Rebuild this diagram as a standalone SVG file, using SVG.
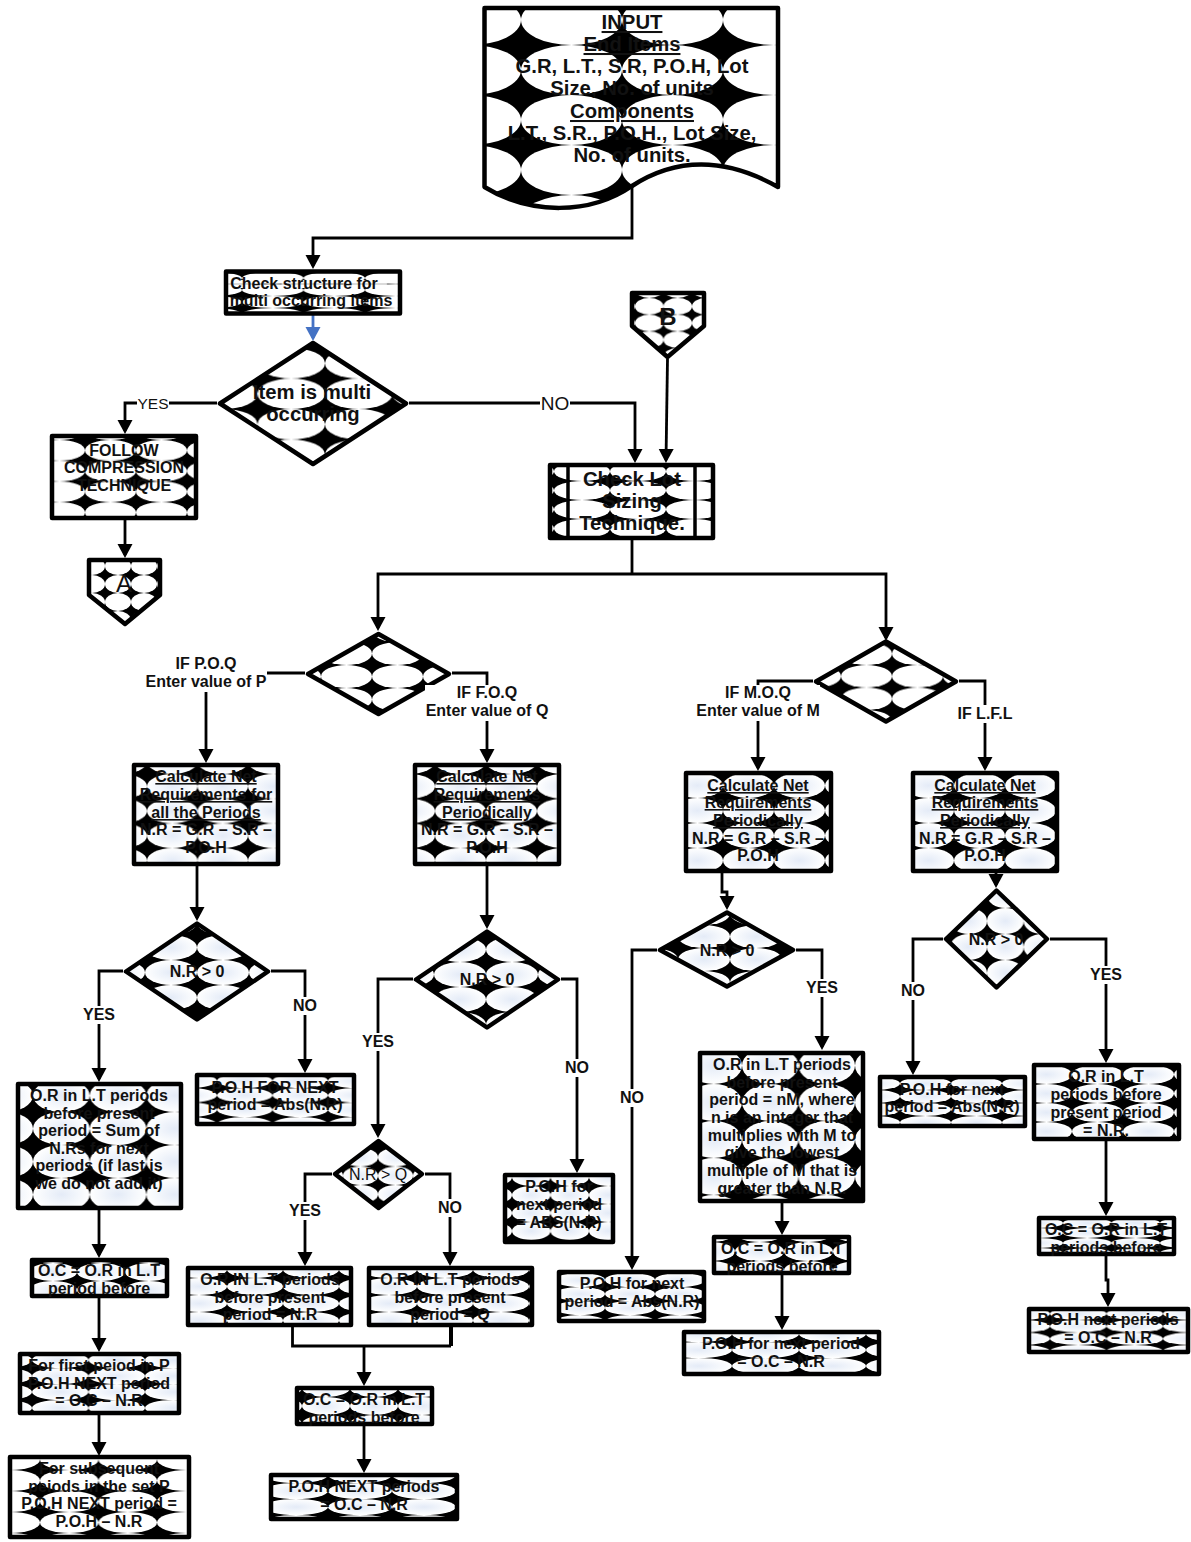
<svg xmlns="http://www.w3.org/2000/svg" width="1191" height="1542" viewBox="0 0 1191 1542">
<style>
text{font-family:"Liberation Sans",Arial,sans-serif;font-weight:bold;font-size:16px;text-anchor:middle;fill:#111}
.u{text-decoration:underline}
.r{font-weight:normal}
.h{font-size:20.300px}
.s{stroke:#000;stroke-width:4.500;stroke-linejoin:round}
.c{fill:none;stroke:#000;stroke-width:2.800;marker-end:url(#a)}
.n{fill:none;stroke:#000;stroke-width:2.800}
.w{fill:#fff}
.l{fill:url(#g)}
.b{fill:#fff}
</style>
<defs>
<radialGradient id="g"><stop offset="0" stop-color="#e4ebf7"/><stop offset="0.75" stop-color="#f8fafd"/><stop offset="1" stop-color="#fff"/></radialGradient>
<marker id="a" markerUnits="userSpaceOnUse" markerWidth="16" markerHeight="16" viewBox="0 0 16 16" refX="11" refY="8" orient="auto"><path d="M0 0.500L14 8L0 15.500Z"/></marker>
<marker id="ab" markerUnits="userSpaceOnUse" markerWidth="16" markerHeight="16" viewBox="0 0 16 16" refX="11" refY="8" orient="auto"><path d="M0 0.500L14 8L0 15.500Z" fill="#4472c4"/></marker>
<pattern id="pinput" patternUnits="userSpaceOnUse" x="521" y="45" width="101" height="50"><rect width="101" height="50"/><ellipse class="w" cx="50.5" cy="25" rx="50.5" ry="25"/></pattern>
<pattern id="pchk" patternUnits="userSpaceOnUse" x="242" y="272" width="61.5" height="36"><rect width="61.5" height="36"/><ellipse class="w" cx="30.75" cy="6" rx="30.75" ry="6"/><ellipse class="w" cx="30.75" cy="18" rx="30.75" ry="6"/><ellipse class="w" cx="30.75" cy="30" rx="30.75" ry="6"/><rect class="w" x="0" y="8" width="22" height="8"/><rect class="w" x="39.500" y="8" width="22" height="8"/><rect y="11.700" width="61.5" height="0.600" fill="#888"/></pattern>
<pattern id="pitem" patternUnits="userSpaceOnUse" x="325" y="348" width="67.5" height="30.5"><rect width="67.5" height="30.5"/><ellipse class="w" cx="33.75" cy="15.25" rx="33.75" ry="15.25"/></pattern>
<pattern id="pfol" patternUnits="userSpaceOnUse" x="85" y="440" width="51" height="20.7"><rect width="51" height="20.7"/><ellipse class="w" cx="25.5" cy="10.35" rx="25.5" ry="10.35"/></pattern>
<pattern id="pa" patternUnits="userSpaceOnUse" x="105" y="575" width="26" height="18"><rect width="26" height="18"/><ellipse class="w" cx="13" cy="9" rx="13" ry="9"/></pattern>
<pattern id="pb" patternUnits="userSpaceOnUse" x="635" y="298" width="28.5" height="16.7"><rect width="28.5" height="16.7"/><ellipse class="w" cx="14.25" cy="8.35" rx="14.25" ry="8.35"/></pattern>
<pattern id="plot" patternUnits="userSpaceOnUse" x="610" y="481" width="56" height="19"><rect width="56" height="19"/><ellipse class="w" cx="28" cy="9.5" rx="28" ry="9.5"/></pattern>
<pattern id="ppoq" patternUnits="userSpaceOnUse" x="372" y="642" width="51" height="23"><rect width="51" height="23"/><ellipse class="w" cx="25.5" cy="11.5" rx="25.5" ry="11.5"/></pattern>
<pattern id="plfl" patternUnits="userSpaceOnUse" x="892" y="665" width="51" height="22.5"><rect width="51" height="22.5"/><ellipse class="w" cx="25.5" cy="11.25" rx="25.5" ry="11.25"/></pattern>
<pattern id="pcp" patternUnits="userSpaceOnUse" x="147" y="774" width="50.5" height="24.7"><rect width="50.5" height="24.7"/><ellipse class="l" cx="25.25" cy="12.35" rx="25.25" ry="12.35"/></pattern>
<pattern id="pcf" patternUnits="userSpaceOnUse" x="435" y="774" width="51" height="24.7"><rect width="51" height="24.7"/><ellipse class="l" cx="25.5" cy="12.35" rx="25.5" ry="12.35"/></pattern>
<pattern id="pcm" patternUnits="userSpaceOnUse" x="723" y="798" width="51" height="25"><rect width="51" height="25"/><ellipse class="l" cx="25.5" cy="12.5" rx="25.5" ry="12.5"/></pattern>
<pattern id="pcl" patternUnits="userSpaceOnUse" x="954" y="798" width="51" height="25"><rect width="51" height="25"/><ellipse class="l" cx="25.5" cy="12.5" rx="25.5" ry="12.5"/></pattern>
<pattern id="pd1" patternUnits="userSpaceOnUse" x="197" y="935" width="52" height="25"><rect width="52" height="25"/><ellipse class="l" cx="26" cy="12.5" rx="26" ry="12.5"/></pattern>
<pattern id="pd2" patternUnits="userSpaceOnUse" x="486" y="937" width="52" height="25"><rect width="52" height="25"/><ellipse class="l" cx="26" cy="12.5" rx="26" ry="12.5"/></pattern>
<pattern id="pd3" patternUnits="userSpaceOnUse" x="730" y="925" width="52" height="23"><rect width="52" height="23"/><ellipse class="l" cx="26" cy="11.5" rx="26" ry="11.5"/></pattern>
<pattern id="pd4" patternUnits="userSpaceOnUse" x="987" y="908" width="36.7" height="26"><rect width="36.7" height="26"/><ellipse class="l" cx="18.35" cy="13" rx="18.35" ry="13"/></pattern>
<pattern id="pdq" patternUnits="userSpaceOnUse" x="378" y="1148" width="35" height="18.5"><rect width="35" height="18.5"/><ellipse class="l" cx="17.5" cy="9.25" rx="17.5" ry="9.25"/></pattern>
<pattern id="porl" patternUnits="userSpaceOnUse" x="33" y="1112" width="56.7" height="33"><rect width="56.7" height="33"/><ellipse class="l" cx="28.35" cy="16.5" rx="28.35" ry="16.5"/></pattern>
<pattern id="ppoh1" patternUnits="userSpaceOnUse" x="217" y="1088" width="55.5" height="14.5"><rect width="55.5" height="14.5"/><ellipse class="l" cx="27.75" cy="7.25" rx="27.75" ry="7.25"/></pattern>
<pattern id="poc1" patternUnits="userSpaceOnUse" x="77" y="1263" width="48" height="18"><rect width="48" height="18"/><ellipse class="l" cx="24" cy="9" rx="24" ry="9"/></pattern>
<pattern id="pfirst" patternUnits="userSpaceOnUse" x="32" y="1368" width="56.5" height="16"><rect width="56.5" height="16"/><ellipse class="l" cx="28.25" cy="8" rx="28.25" ry="8"/></pattern>
<pattern id="psub" patternUnits="userSpaceOnUse" x="40" y="1470" width="58.5" height="21"><rect width="58.5" height="21"/><ellipse class="w" cx="29.25" cy="10.5" rx="29.25" ry="10.5"/></pattern>
<pattern id="porin" patternUnits="userSpaceOnUse" x="227" y="1278" width="56" height="17"><rect width="56" height="17"/><ellipse class="l" cx="28" cy="8.5" rx="28" ry="8.5"/></pattern>
<pattern id="porq" patternUnits="userSpaceOnUse" x="417" y="1278" width="56" height="17"><rect width="56" height="17"/><ellipse class="l" cx="28" cy="8.5" rx="28" ry="8.5"/></pattern>
<pattern id="poc2" patternUnits="userSpaceOnUse" x="350" y="1397" width="48" height="18"><rect width="48" height="18"/><ellipse class="l" cx="24" cy="9" rx="24" ry="9"/></pattern>
<pattern id="ppn" patternUnits="userSpaceOnUse" x="328" y="1483" width="64" height="16"><rect width="64" height="16"/><ellipse class="l" cx="32" cy="8" rx="32" ry="8"/></pattern>
<pattern id="ppa" patternUnits="userSpaceOnUse" x="512" y="1186" width="38.5" height="18"><rect width="38.5" height="18"/><ellipse class="l" cx="19.25" cy="9" rx="19.25" ry="9"/></pattern>
<pattern id="porm" patternUnits="userSpaceOnUse" x="742" y="1084" width="56.5" height="37"><rect width="56.5" height="37"/><ellipse class="l" cx="28.25" cy="18.5" rx="28.25" ry="18.5"/></pattern>
<pattern id="poc3" patternUnits="userSpaceOnUse" x="735" y="1242" width="49" height="19"><rect width="49" height="19"/><ellipse class="l" cx="24.5" cy="9.5" rx="24.5" ry="9.5"/></pattern>
<pattern id="ppnp" patternUnits="userSpaceOnUse" x="732" y="1342" width="67" height="16"><rect width="67" height="16"/><ellipse class="l" cx="33.5" cy="8" rx="33.5" ry="8"/></pattern>
<pattern id="ppab" patternUnits="userSpaceOnUse" x="605" y="1287" width="50" height="14"><rect width="50" height="14"/><ellipse class="l" cx="25" cy="7" rx="25" ry="7"/></pattern>
<pattern id="ppr" patternUnits="userSpaceOnUse" x="900" y="1090" width="51" height="13"><rect width="51" height="13"/><ellipse class="l" cx="25.5" cy="6.5" rx="25.5" ry="6.5"/></pattern>
<pattern id="port" patternUnits="userSpaceOnUse" x="1072" y="1084" width="51" height="19"><rect width="51" height="19"/><ellipse class="l" cx="25.5" cy="9.5" rx="25.5" ry="9.5"/></pattern>
<pattern id="poc4" patternUnits="userSpaceOnUse" x="1063" y="1228" width="48.5" height="10"><rect width="48.5" height="10"/><ellipse class="l" cx="24.25" cy="5" rx="24.25" ry="5"/></pattern>
<pattern id="ppnr" patternUnits="userSpaceOnUse" x="1050" y="1320" width="56.5" height="12.5"><rect width="56.5" height="12.5"/><ellipse class="l" cx="28.25" cy="6.25" rx="28.25" ry="6.25"/></pattern>
</defs>

<g id="connectors">
<path class="c" d="M632 186V238H313V266"/>
<path d="M313 315V338" fill="none" stroke="#4472c4" stroke-width="2.800" marker-end="url(#ab)"/>
<path class="c" d="M217 403H125V431"/>
<path class="c" d="M409 403H635V460"/>
<path class="c" d="M667.5 359L666 460"/>
<path class="c" d="M125 520V555"/>
<path class="n" d="M632 540V574"/>
<path class="c" d="M632 574H378V628"/>
<path class="c" d="M632 574H886V638"/>
<path class="c" d="M305 673H206V760"/>
<path class="c" d="M452 673H487V760"/>
<path class="c" d="M813 681H758V768"/>
<path class="c" d="M959 681H985V768"/>
<path class="c" d="M197 866V918"/>
<path class="c" d="M487 866V926"/>
<path class="c" d="M722 873V892H727V907"/>
<path class="c" d="M996 873V885"/>
<path class="c" d="M123 971H99V1079"/>
<path class="c" d="M271 971H305V1070"/>
<path class="c" d="M413 979H378V1135"/>
<path class="c" d="M561 979H577V1170"/>
<path class="c" d="M657 950H632V1267"/>
<path class="c" d="M796 950H822V1047"/>
<path class="c" d="M943 939H913V1072"/>
<path class="c" d="M1050 939H1106V1060"/>
<path class="c" d="M332 1174H305V1263"/>
<path class="c" d="M425 1174H450V1263"/>
<path class="c" d="M99 1210V1255"/>
<path class="c" d="M99 1298V1349"/>
<path class="c" d="M99 1413V1453"/>
<path class="n" d="M292.500 1327V1346H451"/>
<path class="n" style="stroke-width:4" d="M451 1327V1346"/>
<path class="c" d="M364 1346V1383"/>
<path class="c" d="M364 1426V1470"/>
<path class="c" d="M782 1203V1232"/>
<path class="c" d="M782 1275V1327"/>
<path class="c" d="M1106 1141V1213"/>
<path class="c" d="M1106 1256V1280H1108V1304"/>
</g>

<g id="n-input"><path class="s" fill="url(#pinput)" d="M484.500 8H778V187C730 160 680 155 632 186C590 215 530 215 484.500 187Z"/>
<text class="h u" x="632" y="29">INPUT</text><text class="h u" x="632" y="51">End Items</text><text class="h" x="632" y="73">G.R, L.T., S.R, P.O.H, Lot</text><text class="h" x="632" y="95">Size, No. of units</text><text class="h u" x="632" y="118">Components</text><text class="h" x="632" y="140">L.T., S.R., P.O.H., Lot Size,</text><text class="h" x="632" y="162">No. of units.</text></g>
<g id="n-check"><rect class="s" fill="url(#pchk)" x="226" y="271.500" width="174" height="42"/>
<text x="304" y="289">Check structure for</text><text x="311" y="306">multi occurring items</text></g>
<g id="n-item"><polygon class="s" fill="url(#pitem)" points="313,343 406,403.500 313,464 220,403.500"/>
<text class="h" x="312" y="399">Item is multi</text><text class="h" x="313" y="421">occurring</text></g>
<g id="n-follow"><rect class="s" fill="url(#pfol)" x="52" y="436" width="144" height="82"/>
<text x="124" y="456">FOLLOW</text><text x="124" y="473">COMPRESSION</text><text x="124" y="491">TECHNIQUE</text></g>
<g id="n-a"><polygon class="s" fill="url(#pa)" points="89,560 160,560 160,595 125,624 89,595"/><text class="r" style="font-size:24px" x="124" y="592">A</text></g>
<g id="n-b"><polygon class="s" fill="url(#pb)" points="632,293 704,293 704,326 667.500,357 632,326"/><text style="font-size:24px" x="668" y="325">B</text></g>
<g id="n-lot"><rect class="s" fill="url(#plot)" x="550" y="465" width="163" height="73"/><path class="n" style="stroke-width:3.500" d="M568 465V538M695 465V538"/>
<text class="h" x="632" y="486">Check Lot</text><text class="h" x="632" y="508">Sizing</text><text class="h" x="632" y="530">Technique.</text></g>
<g id="n-poq"><polygon class="s" fill="url(#ppoq)" points="378.500,634 449,674 378.500,714 308,674"/></g>
<g id="n-lfl"><polygon class="s" fill="url(#plfl)" points="886,641.500 956,681.500 886,721.500 816,681.500"/></g>
<g id="n-calc-p"><rect class="s" fill="url(#pcp)" x="134" y="765" width="144" height="99"/>
<text class="u" x="206" y="782">Calculate Net</text><text class="u" x="206" y="800">Requirements for</text><text class="u" x="206" y="818">all the Periods</text><text x="206" y="835">N.R = G.R – S.R –</text><text x="206" y="853">P.O.H</text></g>
<g id="n-calc-q"><rect class="s" fill="url(#pcf)" x="415" y="765" width="144" height="99"/>
<text class="u" x="487" y="782">Calculate Net</text><text class="u" x="487" y="800">Requirements</text><text class="u" x="487" y="818">Periodically</text><text x="487" y="835">N.R = G.R – S.R –</text><text x="487" y="853">P.O.H</text></g>
<g id="n-calc-m"><rect class="s" fill="url(#pcm)" x="686" y="773" width="145" height="98"/>
<text class="u" x="758" y="791">Calculate Net</text><text class="u" x="758" y="808">Requirements</text><text class="u" x="758" y="826">Periodically</text><text x="758" y="844">N.R = G.R – S.R –</text><text x="758" y="861">P.O.H</text></g>
<g id="n-calc-l"><rect class="s" fill="url(#pcl)" x="913" y="773" width="144" height="98"/>
<text class="u" x="985" y="791">Calculate Net</text><text class="u" x="985" y="808">Requirements</text><text class="u" x="985" y="826">Periodically</text><text x="985" y="844">N.R = G.R – S.R –</text><text x="985" y="861">P.O.H</text></g>
<g id="n-d1"><polygon class="s" fill="url(#pd1)" points="197,923.500 268,971.500 197,1019.500 126,971.500"/><text x="197" y="977">N.R &gt; 0</text></g>
<g id="n-d2"><polygon class="s" fill="url(#pd2)" points="487,931.500 558,979.500 487,1027.500 416,979.500"/><text x="487" y="985">N.R &gt; 0</text></g>
<g id="n-d3"><polygon class="s" fill="url(#pd3)" points="727,912.500 793,950 727,986.500 660,950"/><text x="727" y="956">N.R &gt; 0</text></g>
<g id="n-d4"><polygon class="s" fill="url(#pd4)" points="996.500,890.500 1047,939 996.500,987.500 946,939"/><text x="996" y="945">N.R &gt; 0</text></g>
<g id="n-dq"><polygon class="s" fill="url(#pdq)" points="378.500,1141 422,1174 378.500,1208 335,1174"/><text class="r" x="378" y="1180">N.R &gt; Q</text></g>
<g id="n-or-p"><rect class="s" fill="url(#porl)" x="18" y="1084" width="163" height="124"/>
<text x="99" y="1101">O.R in L.T periods</text><text x="99" y="1119">before present</text><text x="99" y="1136">period = Sum of</text><text x="99" y="1154">N.Rs for next</text><text x="99" y="1171">periods (if last is</text><text x="99" y="1189">we do not add it)</text></g>
<g id="n-poh-p"><rect class="s" fill="url(#ppoh1)" x="197" y="1075" width="157" height="49"/>
<text x="275" y="1093">P.O.H FOR NEXT</text><text x="275" y="1110">period = Abs(N.R)</text></g>
<g id="n-oc-p"><rect class="s" fill="url(#poc1)" x="32" y="1260" width="135" height="36"/>
<text x="99" y="1276">O.C = O.R in L.T</text><text x="99" y="1294">period before</text></g>
<g id="n-first"><rect class="s" fill="url(#pfirst)" x="20" y="1354" width="159" height="59"/>
<text x="99" y="1371">For first peiod in P</text><text x="99" y="1389">P.O.H NEXT period</text><text x="99" y="1406">= O.C – N.R</text></g>
<g id="n-sub"><rect class="s" fill="url(#psub)" x="10" y="1457" width="179" height="80"/>
<text x="99" y="1474">For subsequent</text><text x="99" y="1492">peiods in the set P</text><text x="99" y="1509">P.O.H NEXT period =</text><text x="99" y="1527">P.O.H – N.R</text></g>
<g id="n-or-n"><rect class="s" fill="url(#porin)" x="188" y="1268" width="163" height="57"/>
<text x="270" y="1285">O.R IN L.T periods</text><text x="270" y="1303">before present</text><text x="270" y="1320">period = N.R</text></g>
<g id="n-or-q"><rect class="s" fill="url(#porq)" x="369" y="1268" width="163" height="57"/>
<text x="450" y="1285">O.R IN L.T periods</text><text x="450" y="1303">before present</text><text x="450" y="1320">period = Q</text></g>
<g id="n-oc-q"><rect class="s" fill="url(#poc2)" x="297" y="1388" width="135" height="36"/>
<text x="364" y="1405">O.C = O.R in L.T</text><text x="364" y="1423">periods before</text></g>
<g id="n-poh-q"><rect class="s" fill="url(#ppn)" x="271" y="1475" width="186" height="44"/>
<text x="364" y="1492">P.O.H NEXT periods</text><text x="364" y="1510">= O.C – N.R</text></g>
<g id="n-poh-a"><rect class="s" fill="url(#ppa)" x="505" y="1175" width="108" height="67"/>
<text x="559" y="1192">P.O.H for</text><text x="559" y="1210">next period</text><text x="559" y="1228">= ABS(N.R)</text></g>
<g id="n-or-m"><rect class="s" fill="url(#porm)" x="700" y="1053" width="163" height="148"/>
<text x="782" y="1070">O.R in L.T periods</text><text x="782" y="1088">before present</text><text x="782" y="1105">period = nM, where</text><text x="782" y="1123">n is an integer that</text><text x="782" y="1141">multiplies with M to</text><text x="782" y="1158">give the lowest</text><text x="782" y="1176">multiple of M that is</text><text x="782" y="1194">greater than N.R.</text></g>
<g id="n-oc-m"><rect class="s" fill="url(#poc3)" x="714" y="1237" width="135" height="36"/>
<text x="782" y="1254">O.C = O.R in L.T</text><text x="782" y="1272">periods before</text></g>
<g id="n-poh-m"><rect class="s" fill="url(#ppnp)" x="684" y="1332" width="195" height="42"/>
<text x="781" y="1349">P.O.H for next period</text><text x="781" y="1367">= O.C – N.R</text></g>
<g id="n-poh-abs"><rect class="s" fill="url(#ppab)" x="559" y="1272" width="145" height="49"/>
<text x="632" y="1289">P.O.H for next</text><text x="632" y="1307">period = Abs(N.R)</text></g>
<g id="n-poh-r"><rect class="s" fill="url(#ppr)" x="880" y="1077" width="145" height="49"/>
<text x="952" y="1095">P.O.H for next</text><text x="952" y="1112">period = Abs(N.R)</text></g>
<g id="n-or-l"><rect class="s" fill="url(#port)" x="1034" y="1065" width="145" height="74"/>
<text x="1106" y="1082">O.R in L.T</text><text x="1106" y="1100">periods before</text><text x="1106" y="1118">present period</text><text x="1106" y="1136">= N.R.</text></g>
<g id="n-oc-l"><rect class="s" fill="url(#poc4)" x="1039" y="1218" width="135" height="36"/>
<text x="1106" y="1235">O.C = O.R in L.T</text><text x="1106" y="1253">periods before</text></g>
<g id="n-poh-l"><rect class="s" fill="url(#ppnr)" x="1029" y="1309" width="159" height="43"/>
<text x="1108" y="1325">P.O.H next periods</text><text x="1108" y="1343">= O.C – N.R</text></g>

<g id="labels">
<rect class="b" x="137" y="395" width="32" height="16"/><text class="r" style="font-size:15.500px" x="153" y="408.500">YES</text>
<rect class="b" x="540" y="394" width="30" height="18"/><text class="r" style="font-size:19px" x="555" y="409.500">NO</text>
<rect class="b" x="145" y="655" width="122" height="37"/><text x="206" y="669">IF P.O.Q</text><text x="206" y="687">Enter value of P</text>
<rect class="b" x="425" y="685" width="124" height="36"/><text x="487" y="698">IF F.O.Q</text><text x="487" y="716">Enter value of Q</text>
<rect class="b" x="697" y="685" width="123" height="36"/><text x="758" y="698">IF M.O.Q</text><text x="758" y="716">Enter value of M</text>
<rect class="b" x="955" y="705" width="60" height="18"/><text x="985" y="719">IF L.F.L</text>
<rect class="b" x="82" y="1006" width="34" height="18"/><text x="99" y="1020">YES</text>
<rect class="b" x="292" y="997" width="26" height="18"/><text x="305" y="1011">NO</text>
<rect class="b" x="361" y="1033" width="34" height="18"/><text x="378" y="1047">YES</text>
<rect class="b" x="564" y="1059" width="26" height="18"/><text x="577" y="1073">NO</text>
<rect class="b" x="619" y="1089" width="26" height="18"/><text x="632" y="1103">NO</text>
<rect class="b" x="805" y="979" width="34" height="18"/><text x="822" y="993">YES</text>
<rect class="b" x="900" y="982" width="26" height="18"/><text x="913" y="996">NO</text>
<rect class="b" x="1089" y="966" width="34" height="18"/><text x="1106" y="980">YES</text>
<rect class="b" x="288" y="1202" width="34" height="18"/><text x="305" y="1216">YES</text>
<rect class="b" x="437" y="1199" width="26" height="18"/><text x="450" y="1213">NO</text>
</g>
</svg>
